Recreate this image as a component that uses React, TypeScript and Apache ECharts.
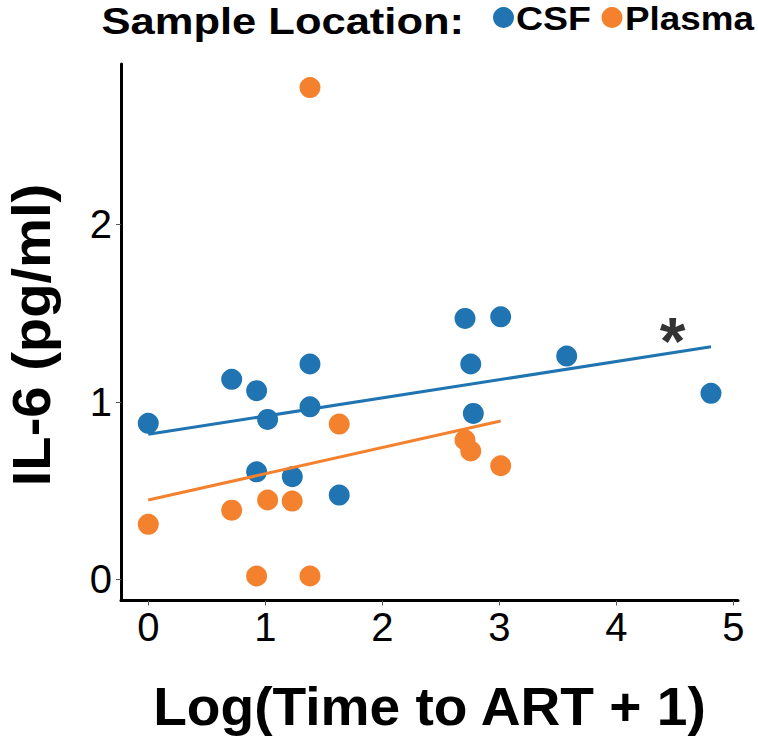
import React, { useEffect, useRef } from "react";
import * as echarts from "echarts";

const csfX = [0, 0.713, 0.926, 1.382, 1.02, 1.382, 0.926, 1.231, 1.632, 2.707, 3.012, 2.756, 3.576, 2.778, 4.809];
const csfY = [0.879, 1.127, 1.063, 1.213, 0.901, 0.972, 0.606, 0.578, 0.475, 1.47, 1.479, 1.213, 1.258, 0.935, 1.048];
const plasmaX = [0, 0.713, 1.02, 1.23, 1.632, 0.926, 1.382, 1.382, 2.707, 2.756, 3.012];
const plasmaY = [0.31, 0.39, 0.447, 0.441, 0.875, 0.019, 0.019, 2.77, 0.785, 0.723, 0.64];
const csfFitX = [0, 4.809];
const csfFitY = [0.817, 1.31];
const plasmaFitX = [0, 3.012];
const plasmaFitY = [0.447, 0.892];
const xTicks = [0, 1, 2, 3, 4, 5];
const yTicks = [0, 1, 2];
const starPos = [4.48, 1.34];
const legendNames = ["CSF", "Plasma"];

const BLUE = "#1F74B1";
const ORANGE = "#F3812E";
const FONT = "'Liberation Sans', Arial, Helvetica, sans-serif";

const zip = (a: number[], b: number[]) => a.map((v, i) => [v, b[i]]);

export default function App() {
  const ref = useRef<HTMLDivElement>(null);
  useEffect(() => {
    if (!ref.current) return;
    const chart = echarts.init(ref.current, undefined, { renderer: "svg" });
    chart.setOption({
      animation: false,
      backgroundColor: "#fff",
      grid: { left: 121, right: 20, top: 64, bottom: 137.5 },
      graphic: [
        {
          type: "text",
          x: 101.5,
          y: 21.5,
          scaleX: 1.16,
          style: { text: "Sample Location:", font: `bold 37.5px ${FONT}`, lineHeight: 38, fill: "#000", align: "left", verticalAlign: "middle" },
        },
        { type: "circle", shape: { cx: 503.5, cy: 17.5, r: 10.5 }, style: { fill: BLUE } },
        {
          type: "text",
          x: 516,
          y: 18.6,
          scaleX: 1.15,
          style: { text: legendNames[0], font: `bold 32.6px ${FONT}`, lineHeight: 33, fill: "#000", align: "left", verticalAlign: "middle" },
        },
        { type: "circle", shape: { cx: 612, cy: 17.5, r: 10.5 }, style: { fill: ORANGE } },
        {
          type: "text",
          x: 625,
          y: 18.6,
          scaleX: 1.13,
          style: { text: legendNames[1], font: `bold 32.6px ${FONT}`, lineHeight: 33, fill: "#000", align: "left", verticalAlign: "middle" },
        },
        {
          type: "text",
          x: 429.5,
          y: 706,
          scaleX: 1.04,
          style: { text: "Log(Time to ART + 1)", font: `bold 53px ${FONT}`, lineHeight: 50, fill: "#000", align: "center", verticalAlign: "middle" },
        },
        {
          type: "text",
          x: 31,
          y: 335,
          rotation: Math.PI / 2,
          scaleX: 1.04,
          style: { text: "IL-6 (pg/ml)", font: `bold 54px ${FONT}`, lineHeight: 44, fill: "#000", align: "center", verticalAlign: "middle" },
        },
      ],
      xAxis: {
        type: "value",
        min: -0.233,
        max: 5.04,
        splitLine: { show: false },
        axisLine: { show: true, onZero: false, lineStyle: { color: "#000", width: 3 } },
        axisTick: { show: true, length: 5, customValues: xTicks, lineStyle: { color: "#555", width: 1 } },
        axisLabel: { customValues: xTicks, fontFamily: FONT, fontSize: 40, color: "#000", margin: 6 },
      },
      yAxis: {
        type: "value",
        min: -0.119,
        max: 2.903,
        splitLine: { show: false },
        axisLine: { show: true, onZero: false, lineStyle: { color: "#000", width: 3 } },
        axisTick: { show: true, length: 5, customValues: yTicks, lineStyle: { color: "#555", width: 1 } },
        axisLabel: { customValues: yTicks, fontFamily: FONT, fontSize: 40, color: "#000", margin: 9 },
      },
      series: [
        {
          name: "CSF",
          type: "scatter",
          data: zip(csfX, csfY),
          symbolSize: 21,
          itemStyle: { color: BLUE, opacity: 1 },
          z: 2,
        },
        {
          name: "Plasma",
          type: "scatter",
          data: zip(plasmaX, plasmaY),
          symbolSize: 21,
          itemStyle: { color: ORANGE, opacity: 1 },
          z: 2,
        },
        {
          name: "CSF fit",
          type: "line",
          data: zip(csfFitX, csfFitY),
          showSymbol: false,
          symbol: "none",
          lineStyle: { color: BLUE, width: 3 },
          z: 3,
        },
        {
          name: "Plasma fit",
          type: "line",
          data: zip(plasmaFitX, plasmaFitY),
          showSymbol: false,
          symbol: "none",
          lineStyle: { color: ORANGE, width: 3 },
          z: 3,
        },
        {
          name: "significance",
          type: "scatter",
          data: [starPos],
          symbolSize: 0,
          label: {
            show: true,
            position: "inside",
            formatter: "*",
            fontFamily: FONT,
            fontWeight: "bold",
            fontSize: 66,
            color: "#000",
          },
          z: 4,
        },
      ],
    });
    return () => chart.dispose();
  }, []);
  return <div ref={ref} style={{ position: "fixed", left: 0, top: 0, width: 758, height: 738 }} />;
}
